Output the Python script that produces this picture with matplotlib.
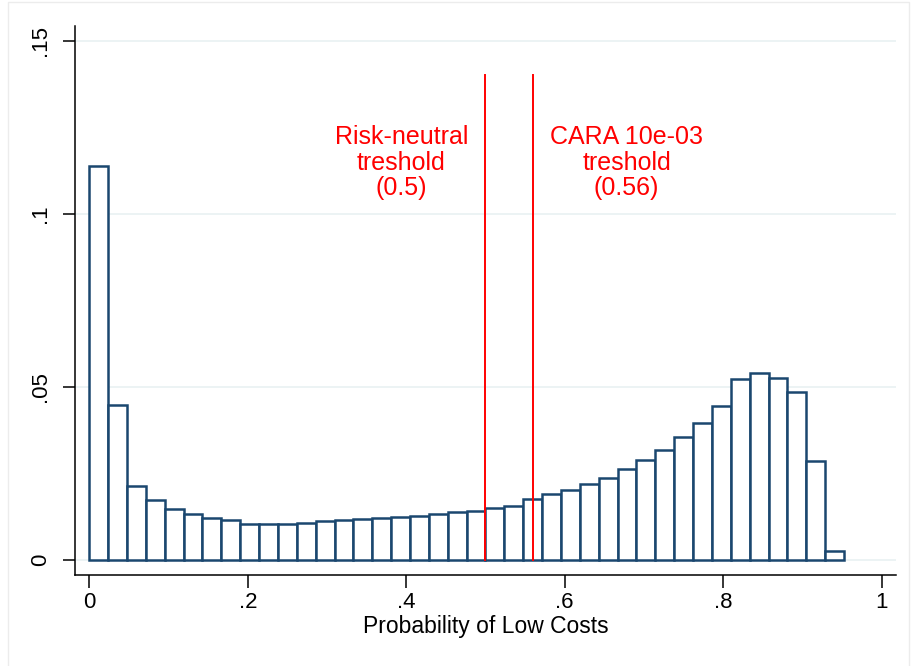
import numpy as np
import matplotlib.pyplot as plt
from matplotlib.patches import Rectangle

plt.rcParams['font.family'] = ['Liberation Sans', 'DejaVu Sans']

# histogram: 40 bins of width 1/42 starting at 0, heights are fractions
bin_width = 1 / 42
fractions = [0.1139, 0.0447, 0.0214, 0.0173, 0.0147, 0.0132, 0.0122, 0.0115,
             0.0105, 0.0105, 0.0105, 0.0108, 0.0112, 0.0115, 0.0118, 0.0120,
             0.0124, 0.0128, 0.0134, 0.0138, 0.0143, 0.0149, 0.0157, 0.0176,
             0.0190, 0.0203, 0.0220, 0.0237, 0.0262, 0.0288, 0.0318, 0.0354,
             0.0396, 0.0444, 0.0524, 0.0540, 0.0526, 0.0485, 0.0286, 0.0025]

thresholds = [0.5, 0.56]
threshold_labels = ["Risk-neutral\ntreshold\n(0.5)", "CARA 10e-03\ntreshold\n(0.56)"]
label_x = [0.394, 0.678]
label_y = 0.1148
line_top = 0.14

xticks = [0, 0.2, 0.4, 0.6, 0.8, 1]
xticklabels = ["0", ".2", ".4", ".6", ".8", "1"]
yticks = [0, 0.05, 0.1, 0.15]
yticklabels = ["0", ".05", ".1", ".15"]

navy = '#1A476F'
grid_col = '#EAF2F3'

fig = plt.figure(figsize=(9.12, 6.66), dpi=100)
ax = fig.add_axes([75 / 912, 1 - 575 / 666, (896 - 75) / 912, (575 - 26) / 666])

# faint outer frame like the stata graph region
fig.patches.append(Rectangle((8 / 912, -0.01), (909 - 8) / 912, 1 - 2 / 666 + 0.01,
                             transform=fig.transFigure, fill=False,
                             edgecolor='#ECECEC', lw=1.0))

for y in yticks:
    ax.axhline(y, color=grid_col, lw=1.3, zorder=0)

lefts = np.arange(len(fractions)) * bin_width
ax.bar(lefts, fractions, width=bin_width, align='edge', facecolor='white',
       edgecolor=navy, linewidth=1.8, zorder=2)

for t, lab, lx in zip(thresholds, threshold_labels, label_x):
    ax.plot([t, t], [0, line_top], color='#FF0000', lw=1.4, zorder=3)
    ax.text(lx, label_y, lab, color='#FF0000', ha='center', va='center',
            fontsize=18, linespacing=1.08)

ax.set_xlim(-0.018, 1.018)
ax.set_ylim(-0.00433, 0.1543)
ax.set_xticks(xticks)
ax.set_xticklabels(xticklabels)
ax.set_yticks(yticks)
ax.set_yticklabels(yticklabels, rotation=90, va='center')
ax.tick_params(axis='both', direction='out', length=9, width=1.1, labelsize=16)
ax.tick_params(axis='x', pad=3)
ax.tick_params(axis='y', pad=8)

ax.spines['top'].set_visible(False)
ax.spines['right'].set_visible(False)
ax.spines['left'].set_linewidth(1.1)
ax.spines['bottom'].set_linewidth(1.1)

ax.set_xlabel("Probability of Low Costs", fontsize=16.5, labelpad=2)

fig.savefig("out.png", dpi=100)
